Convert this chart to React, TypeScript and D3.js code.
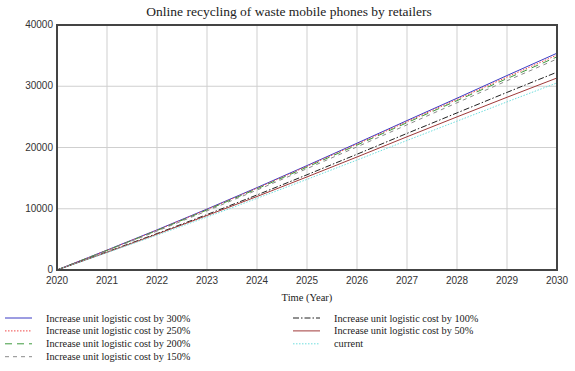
import * as d3 from 'd3'
import { useEffect, useRef } from 'react'

// years on the x axis
const years = [2020, 2021, 2022, 2023, 2024, 2025, 2026, 2027, 2028, 2029, 2030]

// values, one array per scenario
const cost300 = [0, 3250, 6550, 9950, 13450, 17050, 20700, 24400, 28050, 31750, 35400]
const cost250 = [0, 3230, 6500, 9880, 13350, 16930, 20550, 24220, 27850, 31500, 35100]
const cost200 = [0, 3200, 6450, 9800, 13250, 16800, 20400, 24050, 27650, 31250, 34800]
const cost150 = [0, 3150, 6350, 9650, 13050, 16550, 20100, 23700, 27300, 30900, 34450]
const cost100 = [0, 2950, 5950, 9050, 12250, 15550, 18900, 22300, 25650, 29000, 32300]
const cost50 = [0, 2900, 5850, 8900, 12000, 15200, 18450, 21750, 25000, 28200, 31350]
const current = [0, 2830, 5700, 8650, 11700, 14800, 17950, 21150, 24300, 27450, 30550]

const yTicks = [0, 10000, 20000, 30000, 40000]

const series = [
  { name: 'Increase unit logistic cost by 300%', values: cost300, color: '#3b3bc4', dash: null, col: 0, row: 0 },
  { name: 'Increase unit logistic cost by 250%', values: cost250, color: '#f04848', dash: '1.5,1.5', col: 0, row: 1 },
  { name: 'Increase unit logistic cost by 200%', values: cost200, color: '#3f9a3f', dash: '7,5', col: 0, row: 2 },
  { name: 'Increase unit logistic cost by 150%', values: cost150, color: '#8a8a8a', dash: '4,4', col: 0, row: 3 },
  { name: 'Increase unit logistic cost by 100%', values: cost100, color: '#222222', dash: '6,2,1.5,2', col: 1, row: 0 },
  { name: 'Increase unit logistic cost by 50%', values: cost50, color: '#a03a3a', dash: null, col: 1, row: 1 },
  { name: 'current', values: current, color: '#6fdede', dash: '1.5,1.5', col: 1, row: 2 },
]

const SERIF = 'Liberation Serif'
const SANS = 'Liberation Sans'

const App = () => {
  const svgRef = useRef<SVGSVGElement>(null)

  useEffect(() => {
    const width = 575
    const height = 371
    const margin = { left: 57, right: 18, top: 25, bottom: 101 }

    const svg = d3.select(svgRef.current)
    svg.selectAll('*').remove()

    const x = d3.scaleLinear().domain([2020, 2030]).range([margin.left, width - margin.right])
    const y = d3.scaleLinear().domain([0, 40000]).range([height - margin.bottom, margin.top])

    // title
    svg
      .append('text')
      .attr('x', 289)
      .attr('y', 16)
      .attr('text-anchor', 'middle')
      .style('font-family', SERIF)
      .style('font-size', '13.5px')
      .attr('fill', '#222')
      .text('Online recycling of waste mobile phones by retailers')

    // grid
    const grid = svg.append('g').attr('stroke', '#cfcfcf').attr('stroke-width', 1)
    years.slice(1, -1).forEach((yr) => {
      grid.append('line').attr('x1', x(yr)).attr('x2', x(yr)).attr('y1', y(0)).attr('y2', y(40000))
    })
    yTicks.slice(1, -1).forEach((v) => {
      grid.append('line').attr('x1', x(2020)).attr('x2', x(2030)).attr('y1', y(v)).attr('y2', y(v))
    })

    // tick labels
    svg
      .selectAll('.ylab')
      .data(yTicks)
      .enter()
      .append('text')
      .attr('x', x(2020) - 4)
      .attr('y', (d) => y(d) + 3)
      .attr('text-anchor', 'end')
      .style('font-family', SANS)
      .style('font-size', '10px')
      .attr('fill', '#333')
      .text((d) => d)

    svg
      .selectAll('.xlab')
      .data(years)
      .enter()
      .append('text')
      .attr('x', (d) => x(d))
      .attr('y', y(0) + 14)
      .attr('text-anchor', 'middle')
      .style('font-family', SANS)
      .style('font-size', '10px')
      .attr('fill', '#333')
      .text((d) => d)

    svg
      .append('text')
      .attr('x', x(2025))
      .attr('y', 301)
      .attr('text-anchor', 'middle')
      .style('font-family', SERIF)
      .style('font-size', '10.5px')
      .attr('fill', '#222')
      .text('Time (Year)')

    // lines
    const line = d3
      .line<number>()
      .x((_, i) => x(years[i]))
      .y((d) => y(d))

    series.forEach((s) => {
      svg
        .append('path')
        .attr('d', line(s.values))
        .attr('fill', 'none')
        .attr('stroke', s.color)
        .attr('stroke-width', 1)
        .attr('stroke-dasharray', s.dash)
    })

    // frame
    svg
      .append('rect')
      .attr('x', x(2020))
      .attr('y', y(40000))
      .attr('width', x(2030) - x(2020))
      .attr('height', y(0) - y(40000))
      .attr('fill', 'none')
      .attr('stroke', '#444')
      .attr('stroke-width', 2)

    // legend
    const legend = svg.append('g')
    series.forEach((s) => {
      const lx = s.col === 0 ? 5 : 293
      const ly = 318 + s.row * 12.9
      legend
        .append('line')
        .attr('x1', lx)
        .attr('x2', lx + 27)
        .attr('y1', ly)
        .attr('y2', ly)
        .attr('stroke', s.color)
        .attr('stroke-width', 1)
        .attr('stroke-dasharray', s.dash)
      legend
        .append('text')
        .attr('x', lx + 41)
        .attr('y', ly + 3.5)
        .style('font-family', SERIF)
        .style('font-size', '10.3px')
        .attr('fill', '#222')
        .text(s.name)
    })
  }, [])

  return (
    <svg
      ref={svgRef}
      width={575}
      height={371}
      style={{ position: 'absolute', left: 0, top: 0, background: '#fff' }}
    ></svg>
  )
}

export default App
